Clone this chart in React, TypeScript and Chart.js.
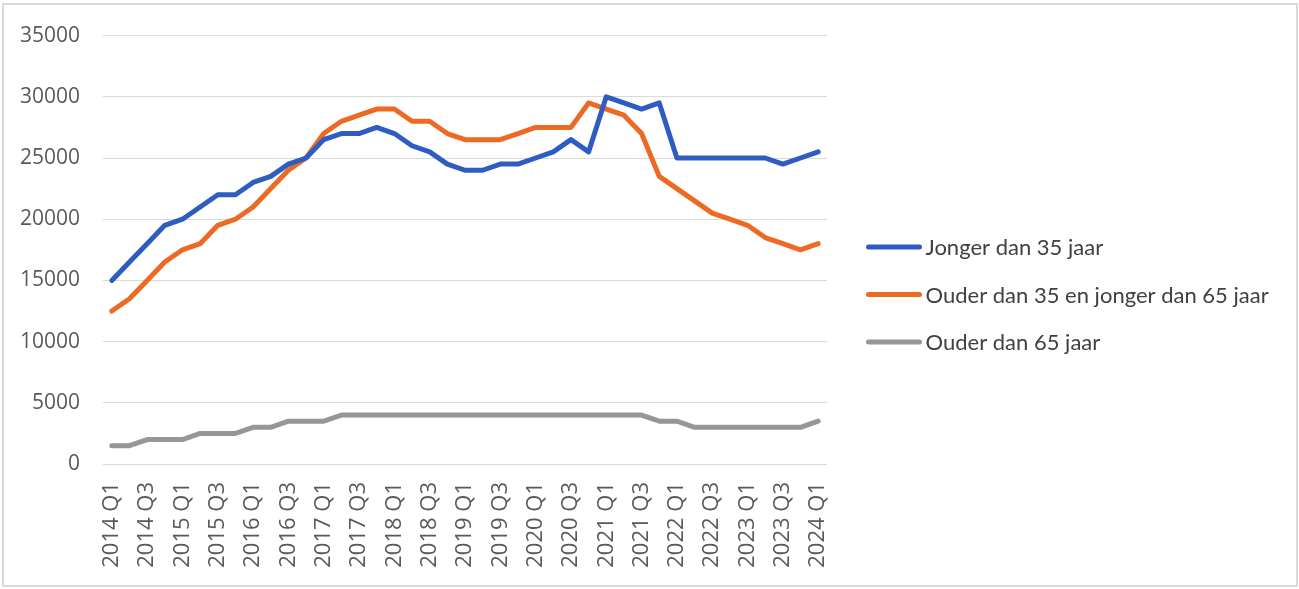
import React, { useEffect, useRef } from "react";
import { Chart, registerables } from "chart.js";

Chart.register(...registerables);

const quarters = [
  "2014 Q1", "2014 Q2", "2014 Q3", "2014 Q4",
  "2015 Q1", "2015 Q2", "2015 Q3", "2015 Q4",
  "2016 Q1", "2016 Q2", "2016 Q3", "2016 Q4",
  "2017 Q1", "2017 Q2", "2017 Q3", "2017 Q4",
  "2018 Q1", "2018 Q2", "2018 Q3", "2018 Q4",
  "2019 Q1", "2019 Q2", "2019 Q3", "2019 Q4",
  "2020 Q1", "2020 Q2", "2020 Q3", "2020 Q4",
  "2021 Q1", "2021 Q2", "2021 Q3", "2021 Q4",
  "2022 Q1", "2022 Q2", "2022 Q3", "2022 Q4",
  "2023 Q1", "2023 Q2", "2023 Q3", "2023 Q4",
  "2024 Q1",
];

const seriesNames = [
  "Jonger dan 35 jaar",
  "Ouder dan 35 en jonger dan 65 jaar",
  "Ouder dan 65 jaar",
];

const jongerDan35 = [
  15000, 16500, 18000, 19500, 20000, 21000, 22000, 22000, 23000, 23500,
  24500, 25000, 26500, 27000, 27000, 27500, 27000, 26000, 25500, 24500,
  24000, 24000, 24500, 24500, 25000, 25500, 26500, 25500, 30000, 29500,
  29000, 29500, 25000, 25000, 25000, 25000, 25000, 25000, 24500, 25000,
  25500,
];

const tussen35en65 = [
  12500, 13500, 15000, 16500, 17500, 18000, 19500, 20000, 21000, 22500,
  24000, 25000, 27000, 28000, 28500, 29000, 29000, 28000, 28000, 27000,
  26500, 26500, 26500, 27000, 27500, 27500, 27500, 29500, 29000, 28500,
  27000, 23500, 22500, 21500, 20500, 20000, 19500, 18500, 18000, 17500,
  18000,
];

const ouderDan65 = [
  1500, 1500, 2000, 2000, 2000, 2500, 2500, 2500, 3000, 3000,
  3500, 3500, 3500, 4000, 4000, 4000, 4000, 4000, 4000, 4000,
  4000, 4000, 4000, 4000, 4000, 4000, 4000, 4000, 4000, 4000,
  4000, 3500, 3500, 3000, 3000, 3000, 3000, 3000, 3000, 3000,
  3500,
];

const seriesColors = ["#2f5cc2", "#ec6a24", "#969696"];

const yMin = 0;
const yMax = 35000;
const yStep = 5000;

const sideLegend = {
  id: "sideLegend",
  afterDraw(chart: any) {
    const ctx = chart.ctx;
    const right = chart.chartArea.right;
    const cy = chart.height / 2;
    const gap = 47.5;
    const n = chart.data.datasets.length;
    ctx.save();
    chart.data.datasets.forEach((ds: any, i: number) => {
      const y = cy + (i - (n - 1) / 2) * gap;
      const x0 = right + 41.5;
      ctx.beginPath();
      ctx.lineWidth = 5;
      ctx.lineCap = "round";
      ctx.strokeStyle = ds.borderColor;
      ctx.moveTo(x0, y);
      ctx.lineTo(x0 + 51, y);
      ctx.stroke();
      ctx.font = "22px Lato";
      ctx.fillStyle = "#404040";
      ctx.textBaseline = "middle";
      ctx.textAlign = "left";
      ctx.fillText(ds.label, x0 + 57, y + 1);
    });
    ctx.restore();
  },
};

export default function App() {
  const canvasRef = useRef<HTMLCanvasElement | null>(null);

  useEffect(() => {
    if (!canvasRef.current) return;
    const seriesData = [jongerDan35, tussen35en65, ouderDan65];
    const chart = new Chart(canvasRef.current, {
      type: "line",
      data: {
        labels: quarters,
        datasets: seriesNames.map((name, i) => ({
          label: name,
          data: seriesData[i],
          borderColor: seriesColors[i],
          backgroundColor: seriesColors[i],
          borderWidth: 5,
          borderCapStyle: "round",
          borderJoinStyle: "round",
          pointRadius: 0,
          pointHoverRadius: 0,
          tension: 0,
          fill: false,
        })),
      },
      options: {
        responsive: false,
        animation: false,
        layout: { padding: { left: 0, top: 33, right: 472, bottom: 0 } },
        plugins: {
          legend: { display: false },
          tooltip: { enabled: false },
          title: { display: false },
        },
        scales: {
          x: {
            type: "category",
            offset: true,
            grid: { display: false, drawTicks: false },
            border: { display: false },
            ticks: {
              autoSkip: false,
              maxRotation: 90,
              minRotation: 90,
              padding: 18,
              color: "#595959",
              font: { family: "'Open Sans'", size: 22 },
              callback: (_v: any, idx: number) => (idx % 2 === 0 ? quarters[idx] : ""),
            },
            afterFit: (s: any) => {
              s.height = 125;
            },
          },
          y: {
            min: yMin,
            max: yMax,
            grid: { color: "#d9d9d9", lineWidth: 1, drawTicks: false },
            border: { display: false },
            ticks: {
              stepSize: yStep,
              padding: 23,
              color: "#595959",
              font: { family: "'Open Sans'", size: 21 },
              callback: (v: any) => String(v),
            },
            afterFit: (s: any) => {
              s.width = 103;
            },
          },
        },
      },
      plugins: [sideLegend],
    });
    return () => chart.destroy();
  }, []);

  return (
    <div style={{ position: "fixed", left: 0, top: 0, width: 1299, height: 589, background: "#fff" }}>
      <canvas ref={canvasRef} width={1299} height={589} style={{ position: "absolute", left: 0, top: 0 }} />
      <div
        style={{
          position: "absolute",
          left: 2,
          top: 3,
          width: 1296,
          height: 584,
          boxSizing: "border-box",
          border: "2px solid #dadada",
          pointerEvents: "none",
        }}
      />
    </div>
  );
}
